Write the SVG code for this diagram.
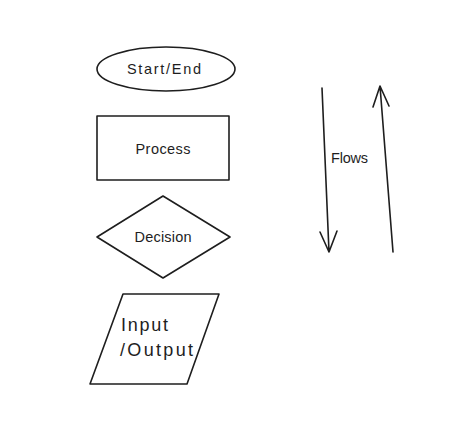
<svg xmlns="http://www.w3.org/2000/svg" width="474" height="437" viewBox="0 0 474 437">
<style>
.s{fill:#ffffff;stroke:#1e1e1e;stroke-width:1.6;stroke-linejoin:round}
.t{font-family:"Liberation Sans",Arial,sans-serif;fill:#1e1e1e;font-size:14.5px}
.b{font-size:18px}
.c{fill:none;stroke:#1e1e1e;stroke-width:1.6;stroke-linecap:round;stroke-linejoin:round}
</style>
<rect width="474" height="437" fill="#ffffff"/>
<g id="start-end">
<ellipse class="s" cx="166" cy="69" rx="69" ry="22"/>
<text class="t" x="164" y="74" text-anchor="middle" textLength="74">Start/End</text>
</g>
<g id="process">
<rect class="s" x="97" y="116" width="132" height="64"/>
<text class="t" x="163" y="154" text-anchor="middle" textLength="55">Process</text>
</g>
<g id="decision">
<polygon class="s" points="97,237 163,196 230,237 163,278"/>
<text class="t" x="163" y="242" text-anchor="middle" textLength="57">Decision</text>
</g>
<g id="input-output">
<polygon class="s" points="123,294 219,294 187,384 90,384"/>
<text class="t b" x="121" y="331" textLength="47">Input</text>
<text class="t b" x="120" y="356" textLength="73">/Output</text>
</g>
<g id="connectors">
<path class="c" d="M322,88 L329,252 M320,232 L329,252 L337,231"/>
<path class="c" d="M393,252 L380,86 M373,107 L380,86 L389,106"/>
<text class="t" x="331" y="163" textLength="37">Flows</text>
</g>
</svg>
